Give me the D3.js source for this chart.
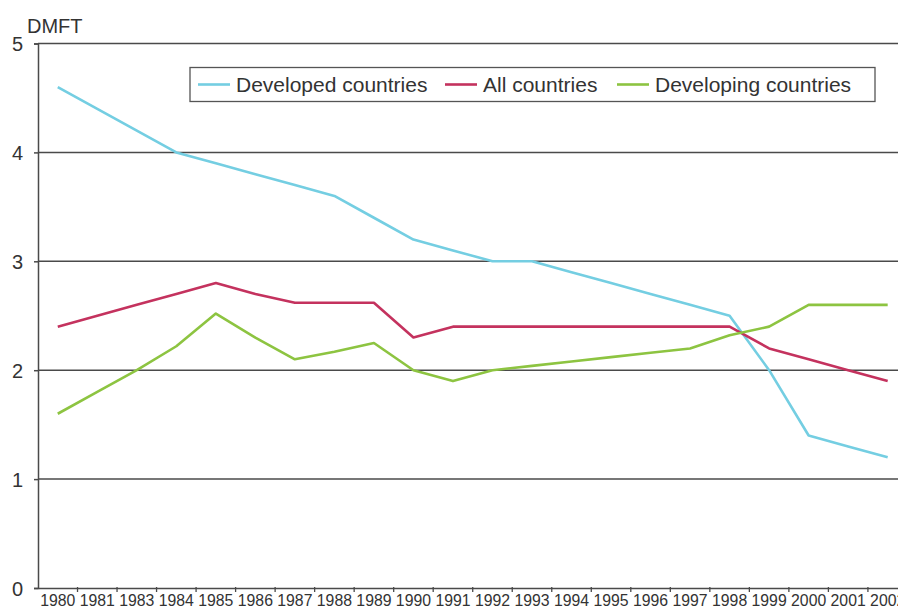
<!DOCTYPE html>
<html>
<head>
<meta charset="utf-8">
<script src="https://cdn.jsdelivr.net/npm/d3@7/dist/d3.min.js"></script>
<style>
  html, body { margin: 0; padding: 0; background: #fff; overflow: hidden; }
  svg { display: block; font-family: "Liberation Sans", Arial, sans-serif; }
</style>
</head>
<body>
<svg id="chart" width="898" height="614"></svg>
<script>
const years = ["1980","1981","1983","1984","1985","1986","1987","1988","1989","1990","1991",
               "1992","1993","1994","1995","1996","1997","1998","1999","2000","2001","2002"];
const developed  = [4.6,4.4,4.2,4.0,3.9,3.8,3.7,3.6,3.4,3.2,3.1,3.0,3.0,2.9,2.8,2.7,2.6,2.5,2.0,1.4,1.3,1.2];
const allCountries = [2.4,2.5,2.6,2.7,2.8,2.7,2.62,2.62,2.62,2.3,2.4,2.4,2.4,2.4,2.4,2.4,2.4,2.4,2.2,2.1,2.0,1.9];
const developing = [1.6,1.8,2.0,2.22,2.52,2.3,2.1,2.17,2.25,2.0,1.9,2.0,2.04,2.08,2.12,2.16,2.2,2.32,2.4,2.6,2.6,2.6];
const yTicks = [0,1,2,3,4,5];
const seriesNames = ["Developed countries","All countries","Developing countries"];
const seriesColors = ["#74cee2","#c4325e","#8dc441"];

const series = [developed, allCountries, developing].map((v,i) => ({name: seriesNames[i], color: seriesColors[i], values: v}));

const svg = d3.select("#chart");
const left = 38, bandStep = 39.52;
const x = d3.scaleBand().domain(years).range([left, left + bandStep*years.length]).paddingInner(0).paddingOuter(0);
const y = d3.scaleLinear().domain([0,5]).range([588, 43.5]);

const gridColor = "#4a4a4a";
const textColor = "#333";
const xRight = left + bandStep*years.length;

// gridlines
svg.append("g").selectAll("line").data(yTicks.filter(d => d > 0)).join("line")
  .attr("x1", left).attr("x2", xRight)
  .attr("y1", d => y(d)).attr("y2", d => y(d))
  .attr("stroke", gridColor).attr("stroke-width", 1.5);

// y axis
const yAxis = svg.append("g").attr("transform", `translate(${left},0)`)
  .call(d3.axisLeft(y).tickValues(yTicks).tickSize(4).tickFormat(d3.format("d")));
yAxis.select(".domain").attr("stroke", gridColor).attr("stroke-width", 1.5);
yAxis.selectAll(".tick line").attr("stroke", gridColor).attr("stroke-width", 1.5);
yAxis.selectAll(".tick text").attr("font-size", 20).attr("fill", textColor)
  .attr("font-family", "Liberation Sans, Arial, sans-serif").attr("x", -15).attr("dy", "0.36em");

// x axis
const xAxis = svg.append("g").attr("transform", `translate(0,${y(0)})`)
  .call(d3.axisBottom(x).tickSize(0).tickPadding(7));
xAxis.select(".domain").attr("stroke", gridColor).attr("stroke-width", 1.5);
xAxis.selectAll(".tick text").attr("font-size", 15.8).attr("fill", textColor)
  .attr("font-family", "Liberation Sans, Arial, sans-serif").attr("y", 7).attr("dy", "0.71em");
// tick marks between categories
svg.append("g").selectAll("line").data(years.slice(1)).join("line")
  .attr("x1", d => x(d)).attr("x2", d => x(d))
  .attr("y1", y(0) - 1).attr("y2", y(0) + 4)
  .attr("stroke", gridColor).attr("stroke-width", 1.3);

// axis title
svg.append("text").attr("x", 27).attr("y", 33).attr("font-size", 20).attr("fill", textColor).text("DMFT");

// lines
const line = d3.line().x((d,i) => x(years[i]) + x.bandwidth()/2).y(d => y(d));
svg.append("g").selectAll("path").data(series).join("path")
  .attr("d", d => line(d.values))
  .attr("fill", "none")
  .attr("stroke", d => d.color)
  .attr("stroke-width", 2.6)
  .attr("stroke-linejoin", "round");

// legend
const lg = svg.append("g");
lg.append("rect").attr("x", 190).attr("y", 67.5).attr("width", 685).attr("height", 34)
  .attr("fill", "#fff").attr("stroke", "#555").attr("stroke-width", 1.3);
const legendX = [198, 445, 617];
series.forEach((s,i) => {
  lg.append("line").attr("x1", legendX[i]).attr("x2", legendX[i] + 32)
    .attr("y1", 84.5).attr("y2", 84.5).attr("stroke", s.color).attr("stroke-width", 2.6);
  lg.append("text").attr("x", legendX[i] + 38).attr("y", 92)
    .attr("font-size", 21).attr("fill", textColor).text(s.name);
});
</script>
</body>
</html>
